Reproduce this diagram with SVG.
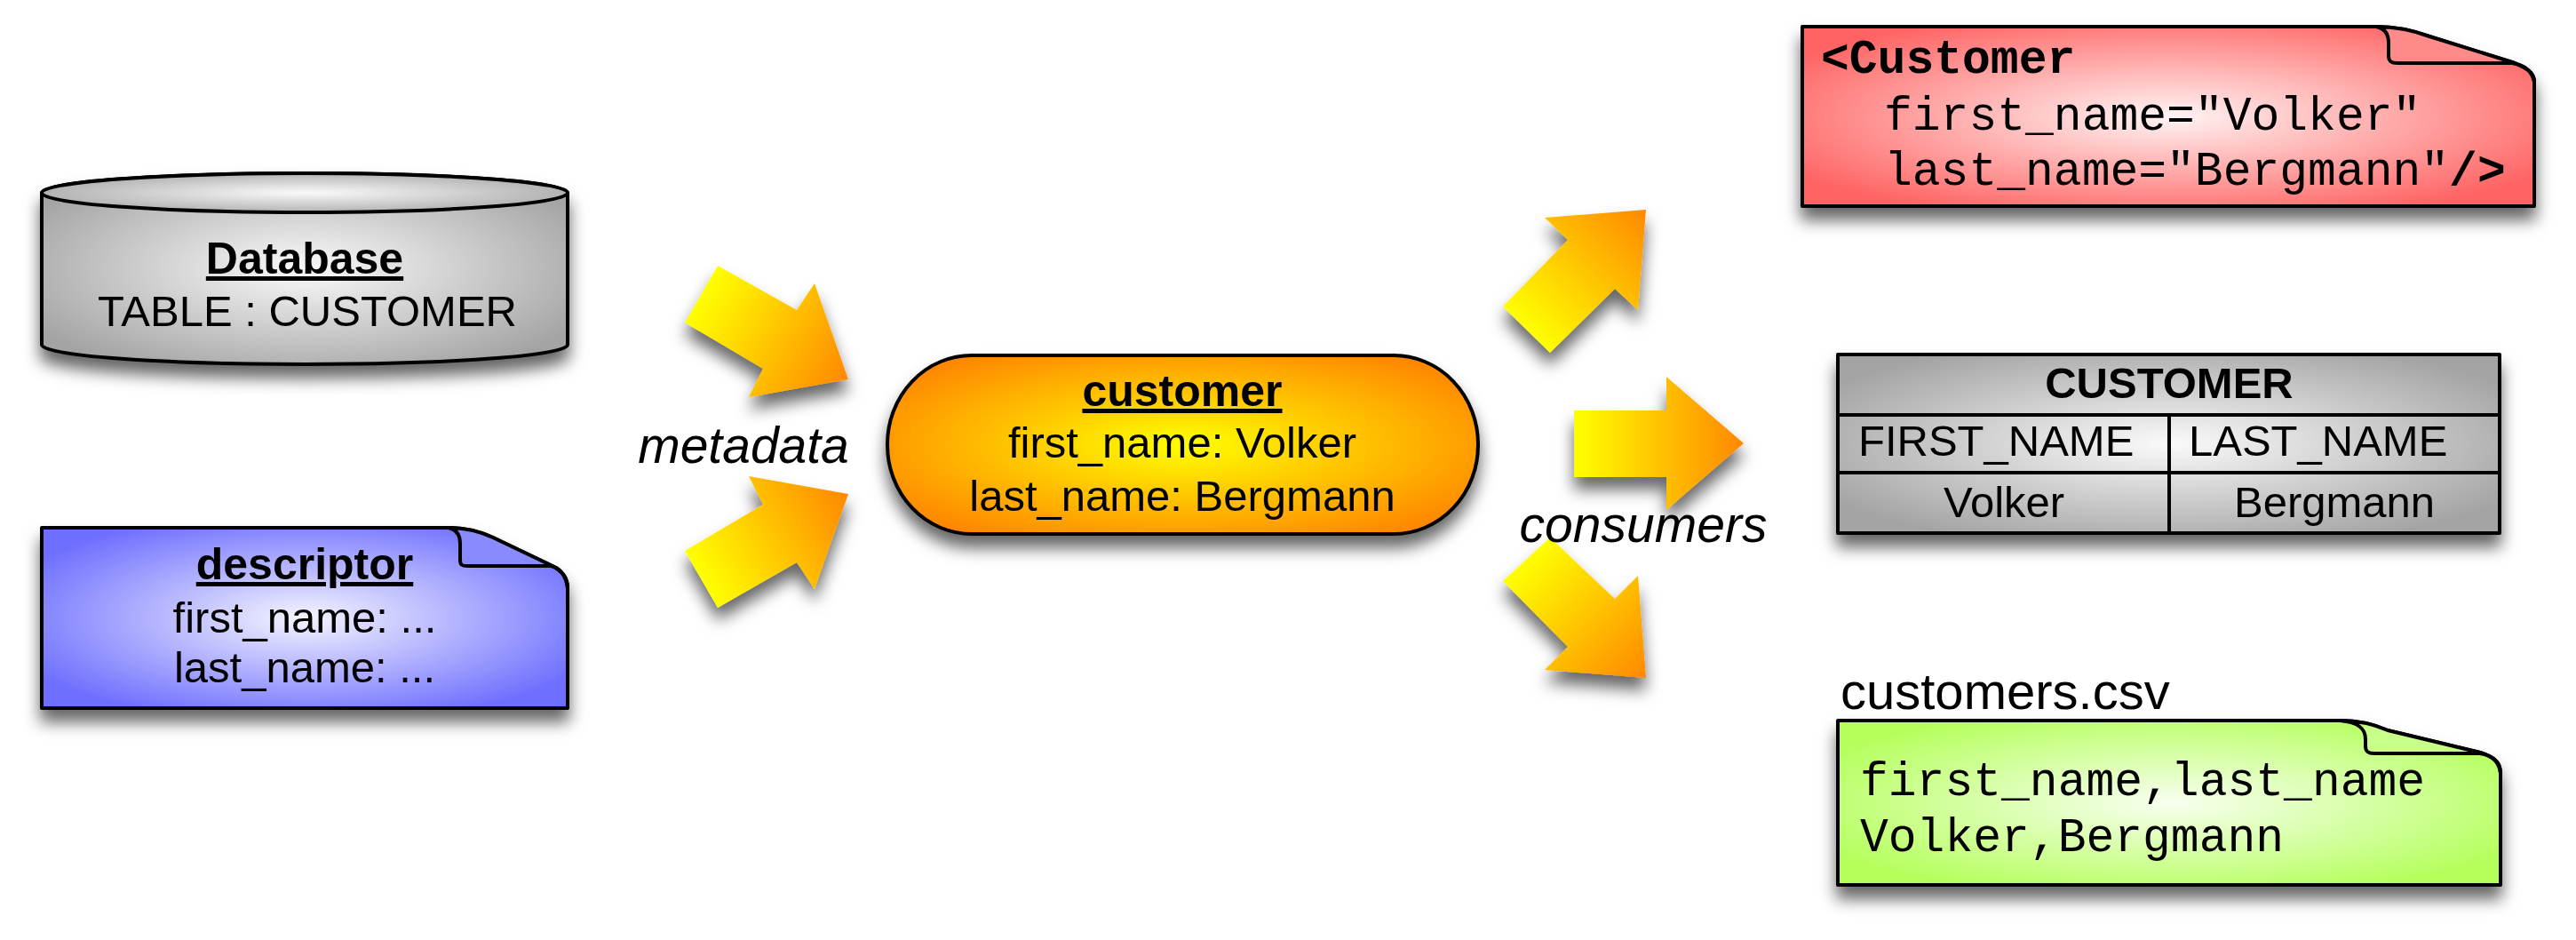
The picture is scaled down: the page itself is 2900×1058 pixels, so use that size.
<svg xmlns="http://www.w3.org/2000/svg" width="2900" height="1058" viewBox="0 0 2900 1058">
<defs>
  <style>
    .sans { font-family: "Liberation Sans", Arial, sans-serif; fill: #000; }
    .mono { font-family: "Liberation Mono", "Courier New", monospace; fill: #000; }
    .b { font-weight: bold; }
    .u { text-decoration: underline; }
    .mid { text-anchor: middle; }
    .it { font-style: italic; }
    .edge { stroke: #000; stroke-width: 4; stroke-linejoin: round; }
  </style>
  <filter id="sh" x="-20%" y="-30%" width="140%" height="180%">
    <feDropShadow dx="0" dy="14" stdDeviation="9" flood-color="#000" flood-opacity="0.6"/>
  </filter>
  <radialGradient id="gGray" cx="0.5" cy="0.5" r="0.6">
    <stop offset="0" stop-color="#fafafa"/>
    <stop offset="1" stop-color="#a4a4a4"/>
  </radialGradient>
  <radialGradient id="gBlue" cx="0.5" cy="0.5" r="0.6">
    <stop offset="0" stop-color="#f4f4ff"/>
    <stop offset="1" stop-color="#6e6eff"/>
  </radialGradient>
  <radialGradient id="gOrange" cx="0.5" cy="0.5" r="0.6">
    <stop offset="0" stop-color="#ffff00"/>
    <stop offset="1" stop-color="#ff8800"/>
  </radialGradient>
  <radialGradient id="gRed" cx="0.5" cy="0.5" r="0.6">
    <stop offset="0" stop-color="#fff4f4"/>
    <stop offset="1" stop-color="#ff6464"/>
  </radialGradient>
  <radialGradient id="gGreen" cx="0.5" cy="0.5" r="0.6">
    <stop offset="0" stop-color="#f8fff0"/>
    <stop offset="1" stop-color="#b4ff5a"/>
  </radialGradient>
  <linearGradient id="aUL" gradientUnits="userSpaceOnUse" x1="790" y1="331" x2="955" y2="427">
    <stop offset="0" stop-color="#ffff00"/><stop offset="1" stop-color="#ff8800"/>
  </linearGradient>
  <linearGradient id="aLL" gradientUnits="userSpaceOnUse" x1="790" y1="652" x2="955" y2="556">
    <stop offset="0" stop-color="#ffff00"/><stop offset="1" stop-color="#ff8800"/>
  </linearGradient>
  <linearGradient id="aUR" gradientUnits="userSpaceOnUse" x1="1718" y1="371" x2="1853" y2="236">
    <stop offset="0" stop-color="#ffff00"/><stop offset="1" stop-color="#ff8800"/>
  </linearGradient>
  <linearGradient id="aM" gradientUnits="userSpaceOnUse" x1="1772" y1="499" x2="1963" y2="499">
    <stop offset="0" stop-color="#ffff00"/><stop offset="1" stop-color="#ff8800"/>
  </linearGradient>
  <linearGradient id="aLR" gradientUnits="userSpaceOnUse" x1="1718" y1="629" x2="1853" y2="763">
    <stop offset="0" stop-color="#ffff00"/><stop offset="1" stop-color="#ff8800"/>
  </linearGradient>
</defs>

<rect width="2900" height="1058" fill="#fff"/>

<!-- connectors -->
<g id="connectors">
  <polygon filter="url(#sh)" fill="url(#aUL)" points="808,299 897,349 917,319 955,427 843,447 859,415 771,363"/>
  <polygon filter="url(#sh)" fill="url(#aLL)" points="771,620 859,568 843,536 955,556 917,663 897,633 808,684"/>
  <polygon filter="url(#sh)" fill="url(#aUR)" points="1692,345 1765,270 1739,245 1853,236 1844,349 1818,325 1745,397"/>
  <polygon filter="url(#sh)" fill="url(#aM)" points="1772,462 1876,462 1876,424 1963,499 1876,574 1876,537 1772,537"/>
  <polygon filter="url(#sh)" fill="url(#aLR)" points="1692,654 1745,605 1818,674 1844,648 1853,763 1739,754 1765,728"/>
  <text class="sans it mid" x="837" y="521" font-size="57">metadata</text>
  <text class="sans it mid" x="1850" y="610" font-size="57">consumers</text>
</g>

<!-- database -->
<g id="database">
  <path filter="url(#sh)" class="edge" fill="url(#gGray)" d="M47,217 L47,388 A296,22 0 0 0 639,388 L639,217 A296,22 0 0 0 47,217 Z"/>
  <ellipse class="edge" cx="343" cy="217" rx="296" ry="22" fill="url(#gGray)"/>
  <text class="sans b u mid" x="343" y="308" font-size="50">Database</text>
  <text class="sans mid" x="346" y="367" font-size="49">TABLE : CUSTOMER</text>
</g>

<!-- descriptor -->
<g id="descriptor">
  <path filter="url(#sh)" class="edge" fill="url(#gBlue)" d="M47,594 L505,594 C525,594 540,598 555,605 L622,637 C633,643 639,650 639,662 L639,797 L47,797 Z"/>
  <path class="edge" fill="#8a8aff" d="M505,594 C514,596 518,602 518,612 L518,630 C518,636 520,637 527,637 L620,637 C631,639 637,648 639,662 C639,650 633,643 622,637 L555,605 C540,598 525,594 505,594 Z"/>
  <text class="sans b u mid" x="343" y="652" font-size="50">descriptor</text>
  <text class="sans mid" x="343" y="712" font-size="49">first_name: ...</text>
  <text class="sans mid" x="343" y="768" font-size="49">last_name: ...</text>
</g>

<!-- customer -->
<g id="customer">
  <rect filter="url(#sh)" class="edge" x="999" y="400" width="665" height="201" rx="95" ry="100" fill="url(#gOrange)"/>
  <text class="sans b u mid" x="1331" y="457" font-size="50">customer</text>
  <text class="sans mid" x="1331" y="515" font-size="49">first_name: Volker</text>
  <text class="sans mid" x="1331" y="575" font-size="49">last_name: Bergmann</text>
</g>

<!-- xml note -->
<g id="xml">
  <path filter="url(#sh)" class="edge" fill="url(#gRed)" d="M2029,30 L2675,30 C2698,30 2716,34 2735,41 L2828,70 C2845,76 2853,82 2853,92 L2853,232 L2029,232 Z"/>
  <path class="edge" fill="#ff8a8a" d="M2675,30 C2685,32 2689,38 2689,48 L2689,63 C2689,69 2692,71 2699,71 L2828,71 C2843,73 2850,80 2853,92 C2853,82 2845,76 2828,70 L2735,41 C2716,34 2698,30 2675,30 Z"/>
  <text class="mono b" x="2050" y="82" font-size="53">&lt;Customer</text>
  <text class="mono" x="2121" y="146" font-size="53">first_name="Volker"</text>
  <text class="mono" x="2121" y="208" font-size="53">last_name="Bergmann"<tspan class="b">/&gt;</tspan></text>
</g>

<!-- table -->
<g id="table">
  <rect filter="url(#sh)" class="edge" x="2069" y="399" width="745" height="201" fill="url(#gGray)"/>
  <line class="edge" x1="2069" y1="467" x2="2814" y2="467"/>
  <line class="edge" x1="2069" y1="532" x2="2814" y2="532"/>
  <line class="edge" x1="2442" y1="467" x2="2442" y2="600"/>
  <text class="sans b mid" x="2442" y="448" font-size="49">CUSTOMER</text>
  <text class="sans" x="2092" y="513" font-size="49">FIRST_NAME</text>
  <text class="sans" x="2464" y="513" font-size="49">LAST_NAME</text>
  <text class="sans mid" x="2256" y="582" font-size="49">Volker</text>
  <text class="sans mid" x="2628" y="582" font-size="49">Bergmann</text>
</g>

<!-- csv note -->
<g id="csv">
  <text class="sans" x="2072" y="798" font-size="58">customers.csv</text>
  <path filter="url(#sh)" class="edge" fill="url(#gGreen)" d="M2069,811 L2635,811 C2656,811 2672,815 2688,822 L2792,847 C2808,852 2815,858 2815,870 L2815,996 L2069,996 Z"/>
  <path class="edge" fill="#c8ff8a" d="M2635,811 C2655,813 2663,820 2663,832 L2663,840 C2663,846 2666,848 2673,848 L2792,848 C2806,850 2813,857 2815,870 C2815,858 2808,852 2792,847 L2688,822 C2672,815 2656,811 2635,811 Z"/>
  <text class="mono" x="2094" y="895" font-size="53">first_name,last_name</text>
  <text class="mono" x="2094" y="958" font-size="53">Volker,Bergmann</text>
</g>
</svg>
